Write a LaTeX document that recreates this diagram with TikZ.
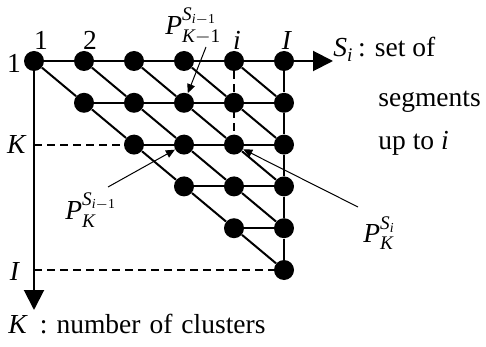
\documentclass[tikz,border=0pt]{standalone}
\usepackage{amsmath}
\usepackage{fontspec}
\setmainfont{Liberation Serif}
\usetikzlibrary{arrows.meta}

\begin{document}
\begin{tikzpicture}[
  x=0.5pt, y=-0.5pt,
  font=\fontsize{13.75}{16}\selectfont,
  dot/.style={circle, fill=black, inner sep=0pt, minimum size=10pt},
  link/.style={line width=1pt},
  axis/.style={line width=1pt, -{Triangle[length=10pt, width=10pt]}},
  guide/.style={line width=1pt, dash pattern=on 4pt off 2.5pt},
  pointer/.style={line width=0.5pt, -{Triangle[length=4.5pt, width=4pt]}},
  lbl/.style={inner sep=0pt, anchor=base}
]

\def\N{6}
\def\dx{50}
\def\dy{41.8}

\useasboundingbox (0,0) rectangle (486,347);

\foreach \k in {1,...,\N} {
  \foreach \i in {\k,...,\N} {
    \node[dot] (c-\k-\i) at ({34+\dx*(\i-1)},{61+\dy*(\k-1)}) {};
  }
}

\foreach \k in {1,...,5} {
  \pgfmathtruncatemacro\kk{\k+1}
  \foreach \i in {\k,...,5} {
    \pgfmathtruncatemacro\ii{\i+1}
    \draw[link] (c-\k-\i) -- (c-\k-\ii);
    \draw[link] (c-\k-\i) -- (c-\kk-\ii);
  }
  \draw[link] (c-\k-6) -- (c-\kk-6);
}

\coordinate (s-tip) at (333,61);
\coordinate (k-tip) at (34,310);
\draw[axis] (c-1-6) -- (s-tip);
\draw[axis] (c-1-1) -- (k-tip);

\draw[guide] (c-1-1 |- c-3-3) -- (c-3-3);
\draw[guide] (c-1-1 |- c-6-6) -- (c-6-6);
\draw[guide] (c-1-5) -- (c-3-5);

\node[lbl] (top-1) at (41,50) {1};
\node[lbl] (top-2) at (90,50) {2};
\node[lbl] (top-i) at (237,50) {\textit{i}};
\node[lbl] (top-I) at (287,50) {\textit{I}};
\node[lbl] (left-1) at (14,73) {1};
\node[lbl] (left-K) at (17,154) {\textit{K}};
\node[lbl] (left-I) at (15,280) {\textit{I}};

\node[lbl, anchor=base west] (s-text) at (333,57) {\textit{S}$_{\textit{i}}$\,: set of};
\node[lbl, anchor=base west] (s-seg) at (378,107) {segments};
\node[lbl, anchor=base west] (s-upto) at (378,150) {up to \textit{i}};
\node[lbl, anchor=base west] (k-text) at (8,333) {\textit{K}\hspace{6pt}:\hspace{4.5pt}number\hspace{4.5pt}of\hspace{4.5pt}clusters};

\node[lbl, anchor=base west] (p-up) at (165,35) {$\textit{P}^{\textit{S}_{\textit{i}-\textrm{1}}}_{\textit{K}-\textrm{1}}$};
\node[lbl, anchor=base west] (p-left) at (65,220) {$\textit{P}^{\textit{S}_{\textit{i}-\textrm{1}}}_{\textit{K}}$};
\node[lbl, anchor=base west] (p-right) at (363,242) {$\textit{P}^{\textit{S}_{\textit{i}}}_{\textit{K}}$};

\coordinate (p-up-end) at (206,47);
\coordinate (p-left-end) at (108,187);
\coordinate (p-right-end) at (358,207);
\draw[pointer] (p-up-end) -- (c-2-4);
\draw[pointer] (p-left-end) -- (c-3-4);
\draw[pointer] (p-right-end) -- (c-3-5);

\end{tikzpicture}
\end{document}
